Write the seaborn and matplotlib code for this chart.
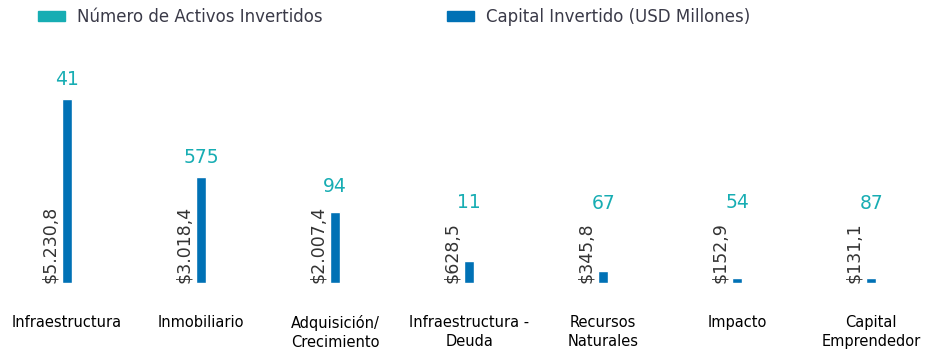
import matplotlib
matplotlib.use("Agg")
import matplotlib.pyplot as plt
import matplotlib.patches as mpatches
from matplotlib.transforms import offset_copy
import seaborn as sns
import pandas as pd

categories = ["Infraestructura", "Inmobiliario", "Adquisición/\nCrecimiento",
              "Infraestructura -\nDeuda", "Recursos\nNaturales", "Impacto",
              "Capital\nEmprendedor"]
capital_usd_m = [5230.8, 3018.4, 2007.4, 628.5, 345.8, 152.9, 131.1]
num_assets = [41, 575, 94, 11, 67, 54, 87]
capital_labels = ["$5.230,8", "$3.018,4", "$2.007,4", "$628,5", "$345,8", "$152,9", "$131,1"]

TEAL = "#17adb3"
BLUE = "#0071b5"
TEXT = "#333333"

sns.set_theme(style="white")
plt.rcParams["font.family"] = ["DejaVu Sans"]

df = pd.DataFrame({"cat": categories, "capital": capital_usd_m})

fig = plt.figure(figsize=(9.37, 3.54), dpi=100)
ax = fig.add_axes([0, 71 / 354, 1, 243 / 354])
sns.barplot(data=df, x="cat", y="capital", color=BLUE, width=0.075,
            saturation=1, ax=ax)
ax.set_xlim(-0.5, 6.49)
ax.set_ylim(0, 6907)
ax.set_xlabel("")
ax.set_ylabel("")
ax.set_yticks([])
ax.tick_params(axis="x", length=0, pad=23, labelsize=10.5, colors="black")
for lbl in ax.get_xticklabels():
    lbl.set_linespacing(1.3)
for s in ax.spines.values():
    s.set_visible(False)

# rotated capital labels sitting left of each bar
value_texts = []
for i, lab in enumerate(capital_labels):
    t = ax.annotate(lab, xy=(i, 0), xytext=(-6, 0), textcoords="offset points",
                    rotation=90, ha="right", va="bottom", fontsize=12.5, color=TEXT)
    value_texts.append(t)

fig.canvas.draw()
renderer = fig.canvas.get_renderer()

# asset counts placed above whichever is taller: the bar or its rotated label
for i, (v, n, t) in enumerate(zip(capital_usd_m, num_assets, value_texts)):
    label_top = t.get_window_extent(renderer).y1
    bar_top = ax.transData.transform((i, v))[1]
    top_px = max(label_top, bar_top)
    y_data = ax.transData.inverted().transform((0, top_px))[1]
    ax.text(i, y_data, str(n), ha="center", va="bottom", fontsize=13.5, color=TEAL,
            transform=offset_copy(ax.transData, fig=fig, x=0, y=7, units="points"))

handles = [mpatches.Patch(color=TEAL, label="Número de Activos Invertidos"),
           mpatches.Patch(color=BLUE, label="Capital Invertido (USD Millones)")]
fig.legend(handles=handles, loc="upper left", bbox_to_anchor=(0.0245, 1.02),
           ncol=2, frameon=False, fontsize=12, handlelength=1.62,
           handleheight=0.5, columnspacing=7.5, handletextpad=0.7,
           labelcolor="#3a3a48")

fig.savefig("out.png", dpi=100)
